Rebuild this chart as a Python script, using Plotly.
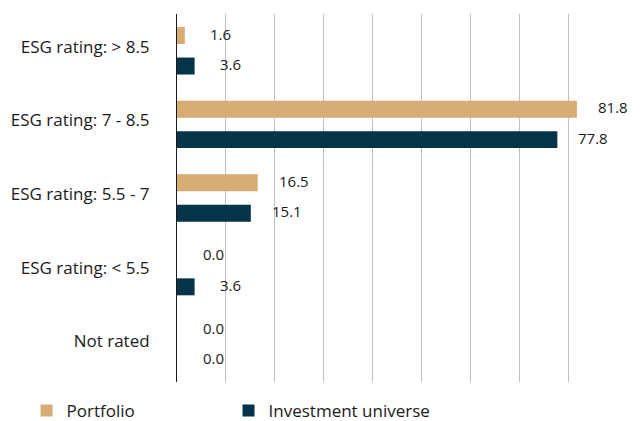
import plotly.graph_objects as go

categories = ["ESG rating: > 8.5", "ESG rating: 7 - 8.5", "ESG rating: 5.5 - 7", "ESG rating: < 5.5", "Not rated"]
portfolio = [1.6, 81.8, 16.5, 0.0, 0.0]
universe = [3.6, 77.8, 15.1, 3.6, 0.0]
series_names = ["Portfolio", "Investment universe"]
colors = ["#D4AC74", "#05344A"]

FONT = "Open Sans"
TXT = "#1a1a1a"

fig = go.Figure()
for name, vals, col in zip(series_names, [portfolio, universe], colors):
    fig.add_trace(go.Bar(
        y=categories, x=vals, name=name, orientation="h",
        marker=dict(color=col, line=dict(width=0)),
    ))

annotations = []
for vals, shift in [(portfolio, 17.25), (universe, -13.25)]:
    for c, v in zip(categories, vals):
        annotations.append(dict(
            x=v, y=c, xref="x", yref="y", text=f"{v:.1f}", showarrow=False,
            xanchor="center", yanchor="middle", xshift=36, yshift=shift,
            font=dict(family=FONT, size=15, color=TXT),
        ))

fig.update_layout(
    width=643, height=421,
    margin=dict(l=177, r=26, t=14, b=39, autoexpand=False),
    paper_bgcolor="white", plot_bgcolor="white",
    barmode="group", bargap=0.172, bargroupgap=0.443,
    showlegend=True,
    legend=dict(orientation="h", x=-0.342, xanchor="left", y=-0.079, yanchor="middle",
                font=dict(family=FONT, size=17, color=TXT), entrywidth=157,
                traceorder="normal"),
    annotations=annotations,
    font=dict(family=FONT, color=TXT),
)
fig.update_xaxes(range=[0, 90], dtick=10, showticklabels=False, showgrid=True,
                 gridcolor="#BFBFBF", gridwidth=1, zeroline=False, showline=False)
fig.update_yaxes(autorange="reversed", showline=True, linecolor="#1a1a1a", linewidth=1,
                 ticks="outside", ticklen=23, tickcolor="rgba(0,0,0,0)",
                 tickfont=dict(family=FONT, size=17, color=TXT), showgrid=False,
                 ticklabelshift=4)

fig.write_html("out.html", config={"displayModeBar": False},
               post_script="document.body.style.margin='0';")
